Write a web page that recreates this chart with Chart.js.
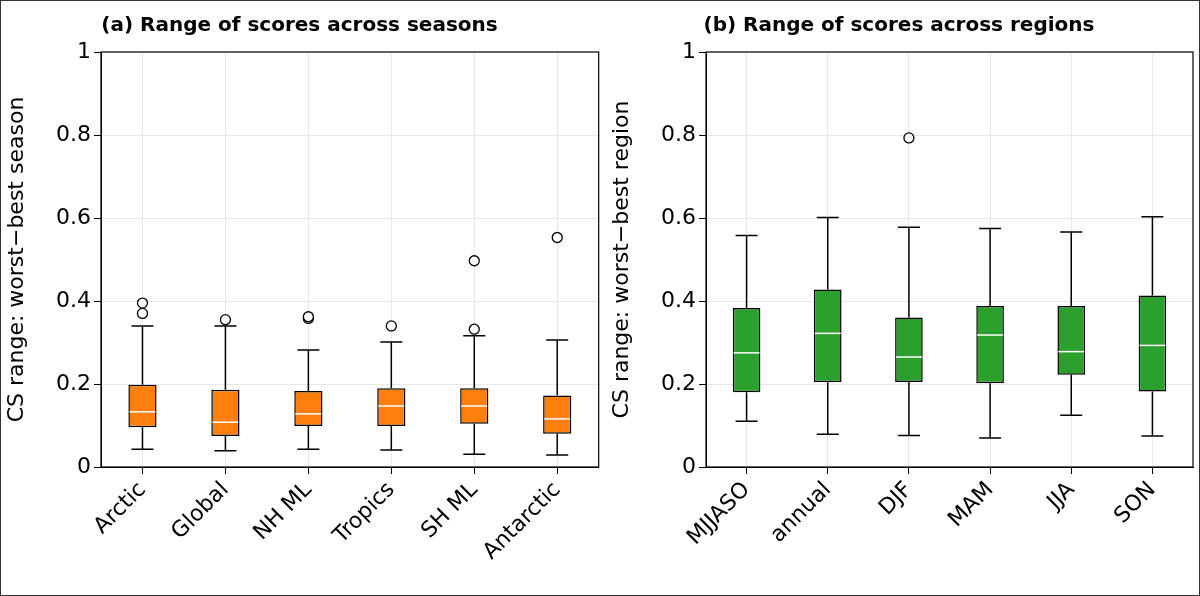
<!DOCTYPE html>
<html><head><meta charset="utf-8">
<script src="https://cdn.jsdelivr.net/npm/chart.js@4/dist/chart.umd.min.js"></script>
<style>
body{margin:0;background:#fff;}
#frame{position:absolute;left:0;top:0;width:1198px;height:594px;border:1px solid #333;}
.c{position:absolute;top:0;}
</style></head><body>
<div id="frame"></div>
<div class="c" style="left:0;width:605px;height:596px"><canvas id="a"></canvas></div>
<div class="c" style="left:605px;width:595px;height:596px"><canvas id="b"></canvas></div>
<script>
// panel (a): regions
var regions = ['Arctic', 'Global', 'NH ML', 'Tropics', 'SH ML', 'Antarctic'];
var regLow = [0.043, 0.039, 0.043, 0.041, 0.031, 0.029];
var regQ1 = [0.096, 0.075, 0.099, 0.099, 0.104, 0.080];
var regMed = [0.133, 0.108, 0.128, 0.147, 0.147, 0.116];
var regQ3 = [0.198, 0.186, 0.183, 0.190, 0.190, 0.172];
var regHigh = [0.340, 0.340, 0.282, 0.301, 0.316, 0.306];
var regOut = [[0.370, 0.395], [0.355], [0.358, 0.362], [0.340], [0.332, 0.497], [0.553]];

// panel (b): seasons
var seasons = ['MJJASO', 'annual', 'DJF', 'MAM', 'JJA', 'SON'];
var seaLow = [0.110, 0.079, 0.076, 0.070, 0.125, 0.075];
var seaQ1 = [0.180, 0.204, 0.205, 0.202, 0.222, 0.182];
var seaMed = [0.275, 0.322, 0.265, 0.318, 0.278, 0.293];
var seaQ3 = [0.383, 0.428, 0.360, 0.388, 0.388, 0.413];
var seaHigh = [0.558, 0.601, 0.578, 0.575, 0.566, 0.603];
var seaOut = [[], [], [0.793], [], [], []];

var font = {family: 'DejaVu Sans', size: 22};

var boxPlugin = {
  id: 'boxes',
  afterDatasetsDraw: function(chart) {
    var c = chart.ctx, xs = chart.scales.x, ys = chart.scales.y, s = chart.options.plugins.boxes;
    c.save();
    c.lineWidth = 1.5;
    for (var i = 0; i < s.low.length; i++) {
      var x = xs.getPixelForValue(i);
      c.strokeStyle = '#000';
      c.beginPath();
      c.moveTo(x, ys.getPixelForValue(s.low[i])); c.lineTo(x, ys.getPixelForValue(s.q1[i]));
      c.moveTo(x, ys.getPixelForValue(s.q3[i])); c.lineTo(x, ys.getPixelForValue(s.high[i]));
      [s.low[i], s.high[i]].forEach(function(v) {
        var y = ys.getPixelForValue(v);
        c.moveTo(x - 11, y); c.lineTo(x + 11, y);
      });
      c.stroke();
      c.strokeStyle = '#fff';
      c.beginPath();
      var ym = ys.getPixelForValue(s.med[i]);
      c.moveTo(x - 13, ym); c.lineTo(x + 13, ym);
      c.stroke();
    }
    var a = chart.chartArea;
    c.strokeStyle = '#000'; c.lineWidth = 1.2;
    c.strokeRect(a.left, a.top, a.right - a.left, a.bottom - a.top);
    c.restore();
  }
};

function make(id, title, ylab, cats, low, q1, med, q3, high, outs, color) {
  var pts = [];
  outs.forEach(function(o, i) { o.forEach(function(v) { pts.push({x: cats[i], y: v}); }); });
  return new Chart(document.getElementById(id), {
    type: 'bar',
    data: {
      labels: cats,
      datasets: [
        {data: q1.map(function(v, i) { return [v, q3[i]]; }), backgroundColor: color,
         borderColor: '#000', borderWidth: 1.5, borderSkipped: false,
         barPercentage: 0.34, categoryPercentage: 1},
        {type: 'line', data: pts, showLine: false, pointRadius: 5, pointBorderWidth: 1.3,
         pointBackgroundColor: '#fff', pointBorderColor: '#000'}
      ]
    },
    options: {
      responsive: true, maintainAspectRatio: false, animation: false,
      layout: {padding: {top: 0, right: id === 'a' ? 6 : 7, left: 0, bottom: 0}},
      plugins: {
        legend: {display: false}, tooltip: {enabled: false},
        title: {display: true, text: title, color: '#000', padding: {top: 14, bottom: 14},
                font: {family: 'DejaVu Sans', size: 20, weight: 'bold'}},
        boxes: {low: low, q1: q1, med: med, q3: q3, high: high}
      },
      scales: {
        x: {offset: true, grid: {offset: false, color: '#e8e8e8', tickColor: '#000', tickLength: 7},
            border: {color: '#000'},
            afterFit: function(s) { s.height = 129; },
            ticks: {color: '#000', font: font, maxRotation: 45, minRotation: 45}},
        y: {min: 0, max: 1, grid: {color: '#e8e8e8', tickColor: '#000', tickLength: 7},
            border: {color: '#000'},
            afterFit: function(s) { s.width = 101; },
            ticks: {color: '#000', font: font, stepSize: 0.2,
                    callback: function(v) { return +v.toFixed(1); }},
            title: {display: true, text: ylab, color: '#000', font: font}}
      }
    },
    plugins: [boxPlugin]
  });
}

make('a', '(a) Range of scores across seasons', 'CS range: worst\u2212best season',
     regions, regLow, regQ1, regMed, regQ3, regHigh, regOut, '#ff7f0e');
make('b', '(b) Range of scores across regions', 'CS range: worst\u2212best region',
     seasons, seaLow, seaQ1, seaMed, seaQ3, seaHigh, seaOut, '#2ca02c');
</script>
</body></html>
